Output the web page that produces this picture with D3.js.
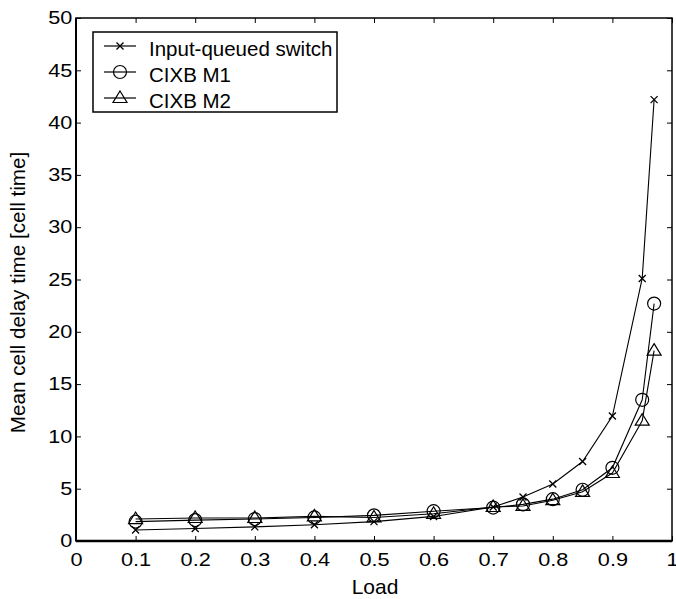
<!DOCTYPE html>
<html>
<head>
<meta charset="utf-8">
<script src="https://cdn.jsdelivr.net/npm/d3@7"></script>
<style>
  body { margin: 0; background: #fff; }
  svg text { font-family: "Liberation Sans", Arial, sans-serif; fill: #000; }
</style>
</head>
<body>
<div class="chart"></div>
<script>
// data
const loads = [0.1, 0.2, 0.3, 0.4, 0.5, 0.6, 0.7, 0.75, 0.8, 0.85, 0.9, 0.95, 0.97];
const inputQueued = [1.05, 1.2, 1.35, 1.55, 1.85, 2.35, 3.25, 4.2, 5.45, 7.6, 11.95, 25.1, 42.2];
const cixbM1 = [1.85, 2.0, 2.1, 2.25, 2.45, 2.85, 3.2, 3.5, 4.0, 4.9, 7.0, 13.5, 22.7];
const cixbM2 = [2.1, 2.2, 2.2, 2.35, 2.25, 2.6, 3.25, 3.35, 3.9, 4.7, 6.5, 11.5, 18.2];
const seriesNames = ["Input-queued switch", "CIXB M1", "CIXB M2"];
const xTicks = [0, 0.1, 0.2, 0.3, 0.4, 0.5, 0.6, 0.7, 0.8, 0.9, 1];
const yTicks = [0, 5, 10, 15, 20, 25, 30, 35, 40, 45, 50];

const widthMax = 676, heightMax = 599;
const margin = { top: 18, bottom: 58, left: 76, right: 4 };
const width = widthMax - margin.left - margin.right;
const height = heightMax - margin.top - margin.bottom;
const stretch = 1.22; // tick labels look wider than tall in the original

const xScale = d3.scaleLinear().domain([0, 1]).range([0, width]);
const yScale = d3.scaleLinear().domain([0, 50]).range([height, 0]);

let svg = d3.select(".chart")
    .append("svg")
    .attr("width", widthMax)
    .attr("height", heightMax)
    .append("g")
    .attr("transform", "translate(" + margin.left + "," + margin.top + ")");

// axes, ticks pointing inwards
const fmtX = (d) => d === 0 || d === 1 ? String(d) : d3.format(".1f")(d);
svg.append("g")
    .attr("transform", "translate(0," + height + ")")
    .call(d3.axisBottom(xScale).tickValues(xTicks).tickSizeInner(-5).tickSizeOuter(0).tickPadding(12).tickFormat(fmtX));
svg.append("g")
    .call(d3.axisTop(xScale).tickValues(xTicks).tickSizeInner(-5).tickSizeOuter(0).tickFormat(""));
svg.append("g")
    .call(d3.axisLeft(yScale).tickValues(yTicks).tickSizeInner(-5).tickSizeOuter(0).tickPadding(3));
svg.append("g")
    .attr("transform", "translate(" + width + ",0)")
    .call(d3.axisRight(yScale).tickValues(yTicks).tickSizeInner(-5).tickSizeOuter(0).tickFormat(""));

svg.selectAll(".domain").remove();
svg.selectAll(".tick line").attr("stroke", "#000").attr("stroke-width", 1);
svg.selectAll(".tick text")
    .style("font-size", "17.8px")
    .attr("transform", "scale(" + stretch + ",1)");

svg.append("rect")
    .attr("x", 0).attr("y", 0)
    .attr("width", width).attr("height", height)
    .attr("fill", "none")
    .attr("stroke", "#000")
    .attr("stroke-width", 1.5);
svg.append("line")
    .attr("x1", 0).attr("x2", width)
    .attr("y1", height).attr("y2", height)
    .attr("stroke", "#000").attr("stroke-width", 2.5);
svg.append("line")
    .attr("x1", 0).attr("x2", 0)
    .attr("y1", 0).attr("y2", height)
    .attr("stroke", "#000").attr("stroke-width", 2);

// axis titles
svg.append("text")
    .text("Load")
    .attr("x", width / 2 + 1)
    .attr("y", height + 53)
    .attr("text-anchor", "middle")
    .style("font-size", "21px");
svg.append("text")
    .text("Mean cell delay time [cell time]")
    .attr("transform", "translate(-51," + (height / 2 + 13) + ") rotate(-90)")
    .attr("text-anchor", "middle")
    .style("font-size", "20.7px");

// markers
function drawMarker(g, type, x, y) {
    if (type === 0) {
        g.append("path")
            .attr("d", `M${x - 3.5},${y - 3.5}L${x + 3.5},${y + 3.5}M${x - 3.5},${y + 3.5}L${x + 3.5},${y - 3.5}`)
            .attr("stroke", "#000").attr("stroke-width", 1.3).attr("fill", "none");
    } else if (type === 1) {
        g.append("circle")
            .attr("cx", x).attr("cy", y).attr("r", 6.5)
            .attr("stroke", "#000").attr("stroke-width", 1.2).attr("fill", "none");
    } else {
        g.append("path")
            .attr("d", `M${x},${y - 7}L${x + 7},${y + 4.5}L${x - 7},${y + 4.5}Z`)
            .attr("stroke", "#000").attr("stroke-width", 1.2).attr("fill", "none");
    }
}

const allSeries = [inputQueued, cixbM1, cixbM2];
const line = d3.line()
    .x((d, i) => xScale(loads[i]))
    .y((d) => yScale(d));

allSeries.forEach((vals, k) => {
    svg.append("path")
        .datum(vals)
        .attr("d", line)
        .attr("fill", "none")
        .attr("stroke", "#000")
        .attr("stroke-width", 1.1);
    let mg = svg.append("g");
    vals.forEach((v, i) => drawMarker(mg, k, xScale(loads[i]), yScale(v)));
});

// legend
let legend = svg.append("g").attr("transform", "translate(17,14)");
legend.append("rect")
    .attr("x", 0).attr("y", 0)
    .attr("width", 244).attr("height", 80)
    .attr("fill", "#fff")
    .attr("stroke", "#000")
    .attr("stroke-width", 1.5);
seriesNames.forEach((name, k) => {
    const yy = 14 + k * 26;
    legend.append("line")
        .attr("x1", 11).attr("x2", 43)
        .attr("y1", yy).attr("y2", yy)
        .attr("stroke", "#000").attr("stroke-width", 1.2);
    drawMarker(legend, k, 27, yy);
    legend.append("text")
        .text(name)
        .attr("x", 56)
        .attr("y", yy + 9.5)
        .style("font-size", "20.5px");
});
</script>
</body>
</html>
